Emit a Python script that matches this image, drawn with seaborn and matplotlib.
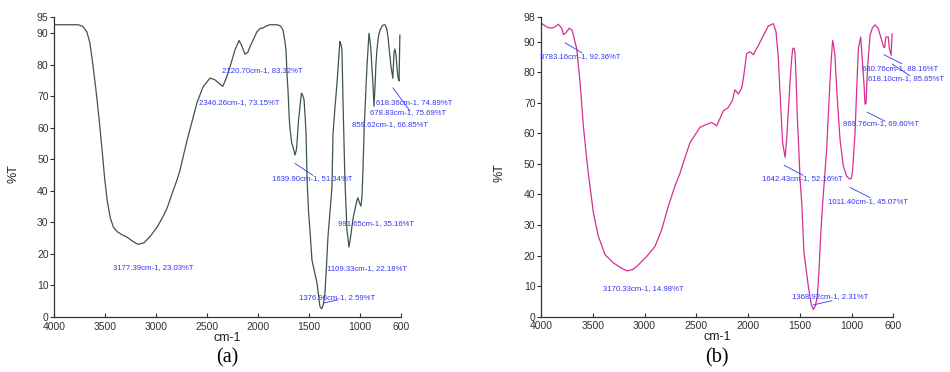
import matplotlib
matplotlib.use("Agg")
import matplotlib.pyplot as plt
import seaborn as sns
import pandas as pd

# FTIR spectrum (a): wavenumber (cm-1) and transmittance (%T)
wn_a = [4000, 3900, 3800, 3765, 3720, 3680, 3650, 3620, 3590, 3560, 3530, 3505,
        3480, 3450, 3420, 3380, 3330, 3285, 3230, 3177, 3120, 3060, 2990, 2930,
        2893, 2834, 2795, 2765, 2697, 2640, 2599, 2540, 2471, 2422, 2380, 2346,
        2310, 2275, 2226, 2187, 2160, 2129, 2100, 2080, 2040, 2011, 1980, 1952,
        1920, 1884, 1815, 1780, 1756, 1740, 1727, 1715, 1707, 1695, 1688, 1670,
        1658, 1639, 1625, 1619, 1605, 1590, 1575, 1565, 1550, 1538, 1530, 1520,
        1505, 1492, 1472, 1445, 1423, 1394, 1376, 1360, 1345, 1330, 1315, 1296,
        1276, 1266, 1245, 1227, 1210, 1198, 1188, 1178, 1168, 1158, 1149, 1129,
        1109, 1095, 1080, 1065, 1051, 1031, 1021, 1010, 992, 982, 972, 960,
        945, 933, 913, 904, 894, 884, 874, 864, 854, 845, 835, 820, 805, 780,
        756, 740, 727, 712, 697, 679, 668, 658, 648, 639, 629, 618, 614, 610]
t_a = [92.7, 92.7, 92.7, 92.7, 92.2, 90.5, 87.0, 80.0, 72.0, 63.0, 53.0, 44.0,
       37.0, 31.5, 28.5, 27.0, 26.0, 25.3, 24.0, 23.03, 23.5, 25.5, 28.5, 32.0,
       34.5, 40.0, 43.5, 46.7, 56.0, 63.0, 68.0, 73.0, 75.8, 75.2, 74.0, 73.15,
       76.0, 79.4, 84.8, 87.7, 86.0, 83.32, 84.0, 85.7, 88.5, 90.5, 91.5, 91.7,
       92.3, 92.7, 92.7, 92.3, 91.0, 88.0, 84.8, 76.0, 72.0, 63.0, 60.0, 55.0,
       54.0, 51.34, 53.0, 55.0, 62.0, 66.7, 71.0, 70.5, 69.0, 63.0, 58.0, 43.5,
       33.0, 27.6, 18.0, 14.0, 10.8, 3.3, 2.59, 4.0, 7.6, 16.0, 25.5, 33.0,
       41.0, 58.0, 67.0, 74.0, 82.0, 87.4, 86.5, 84.8, 69.0, 55.0, 43.5, 27.6,
       22.18, 25.0, 28.7, 32.0, 34.0, 37.0, 37.8, 36.5, 35.16, 38.0, 46.7, 60.0,
       71.0, 79.4, 90.0, 88.0, 84.8, 79.0, 74.0, 66.85, 73.0, 80.0, 84.8, 89.0, 91.0, 92.5,
       92.7, 91.5, 89.0, 84.0, 79.4, 75.69, 83.8, 85.0, 83.0, 79.4, 76.0, 74.89, 82.0, 89.5]

# FTIR spectrum (b)
wn_b = [4000, 3993, 3945, 3897, 3860, 3833, 3800, 3783, 3760, 3726, 3700, 3687,
        3655, 3623, 3591, 3558, 3542, 3494, 3446, 3382, 3301, 3230, 3170, 3120,
        3076, 2979, 2899, 2834, 2770, 2706, 2657, 2625, 2561, 2464, 2400, 2352,
        2303, 2239, 2191, 2150, 2127, 2094, 2060, 2046, 2014, 1981, 1949, 1901,
        1852, 1804, 1756, 1730, 1707, 1685, 1666, 1642, 1627, 1610, 1595, 1580,
        1569, 1558, 1547, 1535, 1525, 1510, 1498, 1482, 1460, 1418, 1390, 1369,
        1350, 1331, 1315, 1299, 1280, 1257, 1241, 1209, 1195, 1183, 1170, 1161,
        1138, 1112, 1080, 1048, 1025, 1011, 1000, 990, 967, 950, 935, 912, 892,
        880, 870, 861, 845, 822, 800, 774, 742, 709, 690, 681, 668, 645, 635,
        618, 609]
t_b = [96.2, 96.0, 94.9, 94.5, 95.0, 95.8, 94.5, 92.36, 93.0, 94.5, 93.8, 92.1,
       87.7, 76.8, 62.4, 51.5, 46.6, 34.0, 26.3, 20.3, 17.6, 16.0, 14.98, 15.3,
       16.4, 19.7, 23.0, 28.5, 36.2, 42.8, 47.0, 50.5, 57.0, 62.0, 63.0, 63.6,
       62.5, 67.4, 68.5, 71.0, 74.3, 72.9, 75.0, 77.9, 86.1, 86.8, 85.8, 88.8,
       92.1, 95.2, 96.0, 93.3, 84.4, 69.0, 57.0, 52.16, 58.0, 68.0, 76.8, 84.0,
       87.7, 88.0, 86.6, 77.0, 65.7, 55.0, 45.0, 37.4, 21.0, 9.9, 4.0, 2.31,
       3.5, 6.6, 15.0, 26.3, 37.0, 47.2, 54.8, 76.8, 85.0, 90.5, 88.0, 85.5,
       71.3, 58.1, 49.3, 46.0, 45.2, 45.07, 45.5, 48.0, 60.0, 75.0, 87.7, 91.6, 82.0,
       76.0, 69.6, 69.8, 82.0, 92.1, 94.5, 95.6, 94.3, 90.5, 88.3, 88.16, 91.6, 91.6, 87.7,
       85.65, 92.7]

# Peak labels: (text, text x, text y, leader start x, leader start y, leader end x, leader end y)
peaks_a = [
    ("2120.70cm-1, 83.32%T", 2354, 78.1, None, None, None, None),
    ("2346.26cm-1, 73.15%T", 2579, 68.0, None, None, None, None),
    ("1639.90cm-1, 51.34%T", 1864, 43.9, 1639, 48.7, 1462, 44.9),
    ("618.36cm-1, 74.89%T", 845, 68.0, 679, 72.7, 512, 65.4),
    ("678.83cm-1, 75.69%T", 904, 64.8, None, None, None, None),
    ("859.62cm-1, 66.85%T", 1080, 61.0, None, None, None, None),
    ("991.65cm-1, 35.16%T", 1217, 29.7, None, None, None, None),
    ("3177.39cm-1, 23.03%T", 3422, 15.8, None, None, None, None),
    ("1109.33cm-1, 22.18%T", 1325, 15.5, None, None, None, None),
    ("1376.96cm-1, 2.59%T", 1600, 6.3, 1364, 4.4, 1217, 5.4),
]
peaks_b = [
    ("3783.16cm-1, 92.36%T", 4010, 85.1, 3768, 89.7, 3604, 86.4),
    ("680.76cm-1, 88.16%T", 899, 81.2, 687, 85.8, 513, 82.8),
    ("618.10cm-1, 85.65%T", 842, 77.9, 610, 82.8, 436, 78.9),
    ("869.76cm-1, 69.60%T", 1083, 63.4, 851, 67.0, 677, 64.0),
    ("1642.43cm-1, 52.16%T", 1865, 45.3, 1653, 49.6, 1469, 46.3),
    ("1011.40cm-1, 45.07%T", 1228, 37.7, 1015, 42.3, 822, 39.0),
    ("3170.33cm-1, 14.98%T", 3401, 9.1, None, None, None, None),
    ("1368.92cm-1, 2.31%T", 1576, 6.5, 1373, 3.8, 1189, 5.2),
]

yticks_a = [0, 10, 20, 30, 40, 50, 60, 70, 80, 90, 95]
yticks_b = [0, 10, 20, 30, 40, 50, 60, 70, 80, 90, 98]
xticks = [4000, 3500, 3000, 2500, 2000, 1500, 1000, 600]

sns.set_style("ticks")
plt.rcParams["font.family"] = ["Liberation Sans", "DejaVu Sans"]

fig = plt.figure(figsize=(9.5, 3.72), dpi=100)
ax_a = fig.add_axes([0.057, 0.148, 0.365, 0.805])
ax_b = fig.add_axes([0.5695, 0.149, 0.3705, 0.804])

label_blue = "#3535f5"


def draw_panel(ax, wn, t, color, yticks, ymax, peaks, tag):
    df = pd.DataFrame({"cm-1": wn, "%T": t})
    sns.lineplot(data=df, x="cm-1", y="%T", sort=False, color=color,
                 linewidth=0.9, ax=ax, estimator=None)
    ax.set_xlim(4000, 600)
    ax.set_ylim(0, ymax)
    ax.set_xticks(xticks)
    ax.set_yticks(yticks)
    ax.tick_params(axis="x", direction="in", length=3, labelsize=7.5,
                   colors="#333333", pad=3.5)
    ax.tick_params(axis="y", direction="out", length=3, labelsize=7.5,
                   colors="#333333", pad=1)
    for side in ("top", "right"):
        ax.spines[side].set_visible(False)
    for side in ("left", "bottom"):
        ax.spines[side].set_color("#333333")
        ax.spines[side].set_linewidth(0.9)
    ax.set_xlabel("cm-1", fontsize=9, color="#222222", labelpad=0)
    ax.set_ylabel("%T", fontsize=9, color="#222222")
    ax.yaxis.set_label_coords(-0.1, 0.48)
    for text, tx, ty, lx0, ly0, lx1, ly1 in peaks:
        ax.text(tx, ty, text, fontsize=5.6, color=label_blue, ha="left",
                va="center", clip_on=False)
        if lx0 is not None:
            ax.plot([lx0, lx1], [ly0, ly1], color=label_blue, linewidth=0.6,
                    clip_on=False)
    ax.text(0.5, -0.137, tag, transform=ax.transAxes, ha="center", va="center",
            fontsize=14.5, family="Liberation Serif", color="black")


draw_panel(ax_a, wn_a, t_a, "#3e5450", yticks_a, 95, peaks_a, "(a)")
draw_panel(ax_b, wn_b, t_b, "#d62f93", yticks_b, 98, peaks_b, "(b)")

fig.savefig("out.png", dpi=100)
